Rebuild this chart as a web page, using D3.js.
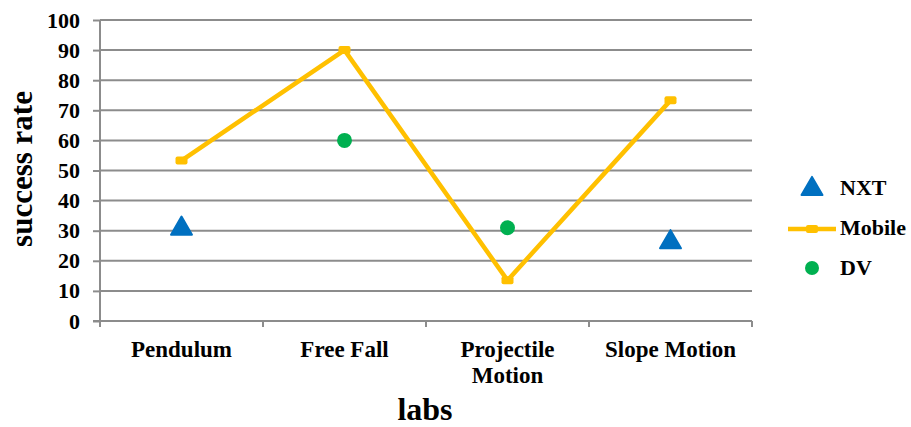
<!DOCTYPE html>
<html><head><meta charset="utf-8">
<script src="https://cdn.jsdelivr.net/npm/d3@7"></script>
<style>body{margin:0;background:#fff}svg{display:block}text{font-family:"Liberation Serif","Times New Roman",serif;font-weight:bold;fill:#000}</style>
</head><body><svg id="c" width="911" height="427"></svg>
<script>
const categories = ["Pendulum", "Free Fall", "Projectile Motion", "Slope Motion"];
const nxt = [31, null, null, 26.5];
const mobile = [53.3, 90, 13.5, 73.3];
const dv = [null, 60, 31, null];
const yTicks = [0,10,20,30,40,50,60,70,80,90,100];

const svg = d3.select("#c");
const pL = 100, pR = 752, pT = 20, pB = 321;
const x = d3.scaleBand().domain(categories).range([pL, pR]);
const y = d3.scaleLinear().domain([0,100]).range([pB, pT]);
const grid = "#8c8c8c";

// gridlines
svg.append("g").selectAll("line").data(yTicks.filter(d=>d>0)).join("line")
  .attr("x1", pL).attr("x2", pR).attr("y1", d=>y(d)).attr("y2", d=>y(d))
  .attr("stroke", grid).attr("stroke-width", 2);

// y axis
const ya = svg.append("g").attr("transform", `translate(${pL},0)`)
  .call(d3.axisLeft(y).tickValues(yTicks).tickSize(7).tickPadding(13));
ya.select(".domain").attr("stroke", grid).attr("stroke-width", 2).attr("d", `M0,${pT}V${pB+5}`);
ya.selectAll(".tick line").attr("stroke", grid).attr("stroke-width", 2);
ya.selectAll(".tick text").attr("font-size", 22).attr("font-family", "Liberation Serif").attr("font-weight","bold").attr("fill","#000");

// x axis
const xa = svg.append("g").attr("transform", `translate(0,${pB})`)
  .call(d3.axisBottom(x).tickSize(0).tickFormat(""));
xa.select(".domain").attr("stroke", grid).attr("stroke-width", 2).attr("d", `M${pL-7},0H${pR}`);
const bounds = categories.map(c=>x(c)).concat([pR]);
xa.selectAll(".bt").data(bounds).join("line").attr("class","bt")
  .attr("x1", d=>d).attr("x2", d=>d).attr("y1", 0).attr("y2", 6)
  .attr("stroke", grid).attr("stroke-width", 2);

const labelLines = {"Projectile Motion": ["Projectile","Motion"]};
categories.forEach(c=>{
  const lines = labelLines[c] || [c];
  const t = svg.append("text").attr("x", x(c)+x.bandwidth()/2).attr("y", 357)
    .attr("text-anchor","middle").attr("font-size", 23);
  lines.forEach((l,i)=>t.append("tspan").attr("x", x(c)+x.bandwidth()/2).attr("dy", i? 26:0).text(l));
});

// axis titles
svg.append("text").attr("x", 425).attr("y", 420).attr("text-anchor","middle").attr("font-size", 32).text("labs");
svg.append("text").attr("transform","translate(32,169) rotate(-90)").attr("text-anchor","middle").attr("font-size", 31).text("success rate");

const cx = c => x(c) + x.bandwidth()/2;
const blue = "#0070C0", gold = "#FFC000", green = "#00B050";

// mobile line
const line = d3.line().x((d,i)=>cx(categories[i])).y(d=>y(d));
svg.append("path").attr("d", line(mobile)).attr("fill","none").attr("stroke", gold)
  .attr("stroke-width", 4.5).attr("stroke-linejoin","miter");
svg.append("g").selectAll("rect").data(mobile).join("rect")
  .attr("x",(d,i)=>cx(categories[i])-6).attr("y", d=>y(d)-4).attr("width",12).attr("height",8)
  .attr("rx",2).attr("fill", gold);

// NXT triangles
const tri = d3.symbol().type(d3.symbolTriangle).size(190);
svg.append("g").selectAll("path").data(nxt.map((v,i)=>[v,i]).filter(d=>d[0]!=null)).join("path")
  .attr("d", tri).attr("transform", d=>`translate(${cx(categories[d[1]])},${y(d[0])+1})`)
  .attr("fill", blue).attr("stroke", blue).attr("stroke-width",2).attr("stroke-linejoin","round");

// DV circles
svg.append("g").selectAll("circle").data(dv.map((v,i)=>[v,i]).filter(d=>d[0]!=null)).join("circle")
  .attr("cx", d=>cx(categories[d[1]])).attr("cy", d=>y(d[0])).attr("r", 7.5).attr("fill", green);

// legend
const lg = svg.append("g");
lg.append("path").attr("d", tri).attr("transform","translate(812,189)").attr("fill", blue).attr("stroke", blue).attr("stroke-width",2).attr("stroke-linejoin","round");
lg.append("text").attr("x", 840).attr("y", 195).attr("font-size", 22).text("NXT");
lg.append("line").attr("x1", 788).attr("x2", 836).attr("y1", 229).attr("y2", 229).attr("stroke", gold).attr("stroke-width", 4.5);
lg.append("rect").attr("x", 806).attr("y", 225).attr("width", 12).attr("height", 8).attr("rx", 2).attr("fill", gold);
lg.append("text").attr("x", 840).attr("y", 235).attr("font-size", 22).text("Mobile");
lg.append("circle").attr("cx", 812).attr("cy", 268).attr("r", 7).attr("fill", green);
lg.append("text").attr("x", 840).attr("y", 275).attr("font-size", 22).text("DV");
</script></body></html>
